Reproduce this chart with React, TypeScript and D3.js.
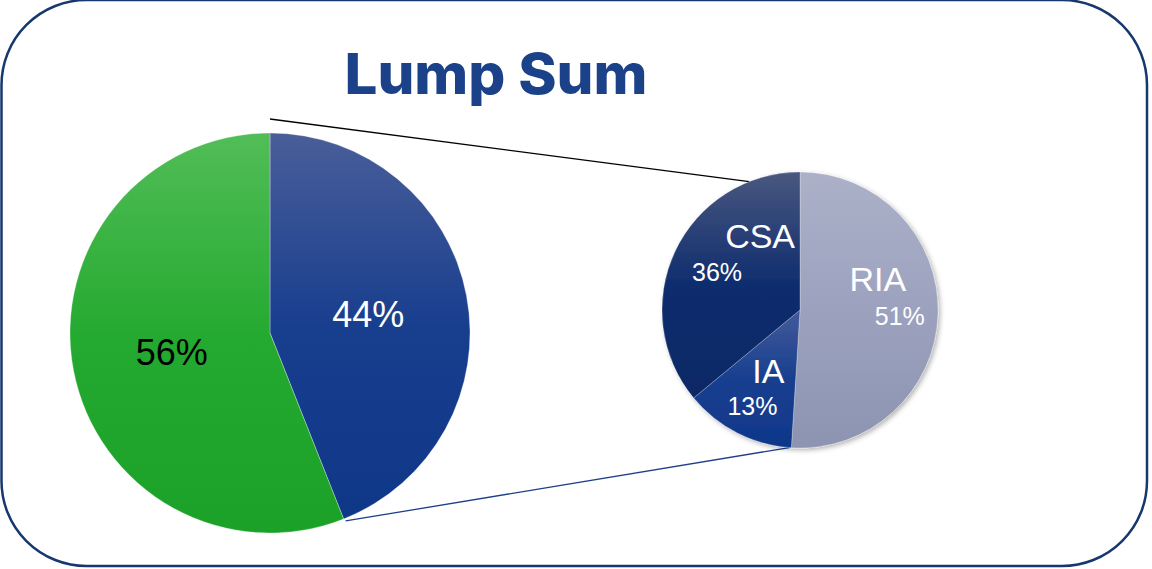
import React from 'react';
import * as d3 from 'd3';

const width = 1152;
const height = 569;

// main pie: the blue share is split out into the small pie
const mainLabels = ['Other', 'Lump Sum'];
const mainValues = [44, 56];
const mainPctText = ['44%', '56%'];

const subLabels = ['RIA', 'IA', 'CSA'];
const subValues = [51, 13, 36];
const subPctText = ['51%', '13%', '36%'];

// gradient stops: top, middle, bottom
const mainGrad = [
  ['#495E99', '#183E8E', '#0F3788'],
  ['#52BD57', '#25AA31', '#1BA128'],
];
const subGrad = [
  ['#ACB1C9', '#9CA2BE', '#8C94B1'],
  ['#435A9A', '#183F8F', '#0F378A'],
  ['#49577F', '#0F2D6E', '#0B2865'],
];
const mainTextColor = ['#ffffff', '#000000'];

// label nudges relative to the slice centroid (name, value)
const subNameShift = [[-5, -22], [6, -1], [35, -27]];
const subValShift = [[17, 12], [-10, 31], [-8, 6]];

const big = { cx: 270, cy: 333, r: 200 };
const small = { cx: 800, cy: 310, r: 138 };

export default function App() {
  const mainArcs = d3.pie<number>().sort(null)(mainValues);
  const subArcs = d3.pie<number>().sort(null)(subValues);

  const bigArc = d3.arc<d3.PieArcDatum<number>>().innerRadius(0).outerRadius(big.r);
  const bigLabelArc = d3.arc<d3.PieArcDatum<number>>().innerRadius(big.r * 0.5).outerRadius(big.r * 0.5);
  const smallArc = d3.arc<d3.PieArcDatum<number>>().innerRadius(0).outerRadius(small.r);
  const smallLabelArc = d3.arc<d3.PieArcDatum<number>>().innerRadius(small.r * 0.6).outerRadius(small.r * 0.6);

  // connector lines: from ends of the split slice to the small pie
  const blue = mainArcs[0];
  const polar = (c: { cx: number; cy: number }, r: number, a: number) => [
    c.cx + r * Math.sin(a),
    c.cy - r * Math.cos(a),
  ];
  const [bx1, by1] = polar(big, big.r, blue.endAngle);
  const [sx0, sy0] = polar(small, small.r, -0.06 * Math.PI * 2);
  const [sx1, sy1] = polar(small, small.r, subArcs[0].endAngle + 0.015);

  const stops = (g: string[]) => [
    <stop key="a" offset="0%" stopColor={g[0]} />,
    <stop key="b" offset="50%" stopColor={g[1]} />,
    <stop key="c" offset="100%" stopColor={g[2]} />,
  ];

  return (
    <svg
      width={width}
      height={height}
      style={{ position: 'absolute', left: 0, top: 0, background: '#fff' }}
      fontFamily="'Liberation Sans', Arial, sans-serif"
    >
      <defs>
        {mainGrad.map((g, i) => (
          <linearGradient key={i} id={`mg${i}`} x1="0" y1="0" x2="0" y2="1">
            {stops(g)}
          </linearGradient>
        ))}
        {subGrad.map((g, i) => (
          <linearGradient key={i} id={`sg${i}`} x1="0" y1="0" x2="0" y2="1">
            {stops(g)}
          </linearGradient>
        ))}
        <filter id="shadow" x="-20%" y="-20%" width="140%" height="140%">
          <feDropShadow dx="2" dy="2" stdDeviation="2.5" floodColor="#000" floodOpacity="0.3" />
        </filter>
      </defs>

      <rect x={1.5} y={0} width={1145.5} height={566} rx={85} ry={85}
        fill="none" stroke="#17376F" strokeWidth={2.5} />

      <text x={496} y={94} textAnchor="middle" fontFamily="Inter, 'Open Sans', sans-serif"
        fontWeight={800} fontSize={56} fill="#1B4189" textLength={303} lengthAdjust="spacingAndGlyphs">
        Lump Sum
      </text>

      {/* connectors */}
      <line x1={big.cx} y1={big.cy - big.r - 14} x2={sx0} y2={sy0} stroke="#000" strokeWidth={1.3} />
      <line x1={bx1 + 2} y1={by1 + 2} x2={sx1} y2={sy1} stroke="#1F3F86" strokeWidth={1.3} />

      <g transform={`translate(${big.cx},${big.cy})`}>
        {mainArcs.map((a, i) => (
          <path key={mainLabels[i]} d={bigArc(a) || ''} fill={`url(#mg${i})`}
            stroke="#ffffff" strokeOpacity={0.3} strokeWidth={1} />
        ))}
        {mainArcs.map((a, i) => {
          const [x, y] = bigLabelArc.centroid(a);
          return (
            <text key={i} x={x} y={y} dy="0.36em" textAnchor="middle" fontSize={36}
              fill={mainTextColor[i]}>{mainPctText[i]}</text>
          );
        })}
      </g>

      <g transform={`translate(${small.cx},${small.cy})`}>
        <g filter="url(#shadow)">
          {subArcs.map((a, i) => (
            <path key={subLabels[i]} d={smallArc(a) || ''} fill={`url(#sg${i})`}
              stroke="#ffffff" strokeOpacity={0.25} strokeWidth={1} />
          ))}
        </g>
        {subArcs.map((a, i) => {
          const [x, y] = smallLabelArc.centroid(a);
          return (
            <g key={i} fill="#ffffff">
              <text x={x + subNameShift[i][0]} y={y + subNameShift[i][1]} textAnchor="middle" fontSize={34}>
                {subLabels[i]}
              </text>
              <text x={x + subValShift[i][0]} y={y + subValShift[i][1]} textAnchor="middle" fontSize={25}>
                {subPctText[i]}
              </text>
            </g>
          );
        })}
      </g>
    </svg>
  );
}
